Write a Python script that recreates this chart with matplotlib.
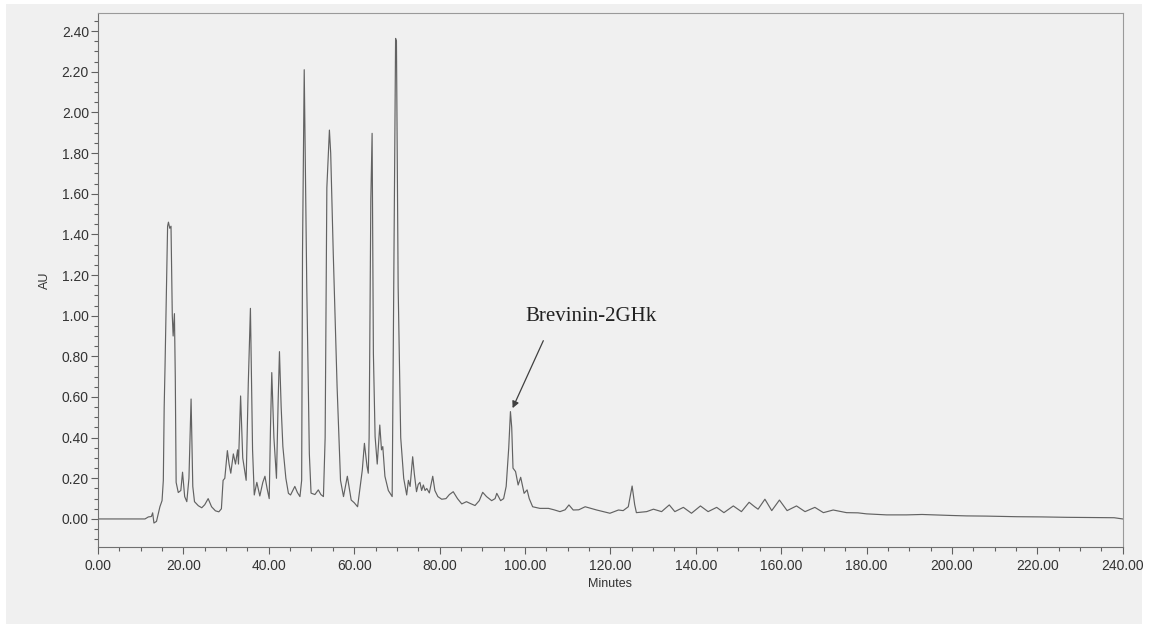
import matplotlib
matplotlib.use("Agg")
import matplotlib.pyplot as plt
from matplotlib.patches import Rectangle
from matplotlib.ticker import MultipleLocator, FormatStrFormatter

# chromatogram trace (minutes, AU)
minutes = [0.0, 11.0, 11.8, 12.5, 12.8, 13.1, 13.7, 14.5, 15.0, 15.3,
           15.5, 15.7, 16.0, 16.3, 16.5, 16.8, 17.1, 17.4, 17.6, 17.9,
           18.1, 18.3, 18.8, 19.4, 19.8, 20.3, 20.8, 21.3, 21.8, 22.2,
           22.6, 23.5, 24.3, 25.0, 25.8, 26.6, 27.5, 28.3, 28.9, 29.3,
           29.7, 30.3, 30.7, 31.1, 31.7, 32.2, 32.7, 32.9, 33.4, 33.9,
           34.7, 35.2, 35.7, 36.2, 36.6, 37.2, 37.9, 38.6, 39.1, 39.6,
           40.1, 40.4, 40.7, 41.2, 41.8, 42.2, 42.5, 42.9, 43.3, 44.0,
           44.6, 45.1, 46.1, 46.7, 47.3, 47.7, 47.9, 48.3, 48.9, 49.5,
           49.9, 50.8, 51.6, 52.2, 52.8, 53.2, 53.6, 54.2, 54.5, 55.1,
           56.0, 56.8, 57.5, 58.4, 59.3, 60.0, 60.8, 61.9, 62.4, 63.0,
           63.3, 63.5, 63.9, 64.2, 64.5, 64.9, 65.4, 66.0, 66.4, 66.7,
           67.2, 68.0, 68.9, 69.0, 69.4, 69.7, 69.9, 70.3, 70.9, 71.6,
           72.3, 72.7, 73.1, 73.7, 74.1, 74.6, 75.0, 75.4, 75.8, 76.2,
           76.6, 77.0, 77.6, 78.4, 78.9, 79.6, 80.5, 81.5, 82.3, 83.2,
           84.2, 85.2, 86.3, 87.1, 88.3, 89.3, 90.1, 91.0, 92.2, 93.0,
           93.4, 94.3, 95.0, 95.6, 96.2, 96.6, 96.9, 97.2, 97.8, 98.4,
           99.0, 99.8, 100.5, 101.0, 101.8, 103.5, 105.5, 106.8, 108.2, 109.4,
           110.3, 111.3, 112.6, 114.1, 116.8, 118.5, 119.9, 121.9, 123.0, 124.2,
           125.1, 125.7, 126.1, 128.5, 130.1, 132.0, 133.8, 135.1, 137.1, 139.0,
           141.1, 142.9, 144.9, 146.6, 148.8, 150.7, 152.5, 153.8, 154.6, 156.2,
           157.8, 159.6, 161.4, 163.6, 165.6, 167.9, 169.9, 172.2, 175.3, 178.0,
           180.0, 184.7, 189.4, 193.0, 195.6, 200.0, 203.4, 208.0, 215.2, 221.0,
           226.9, 233.0, 238.0, 240.0]
au = [0.0, 0.0, 0.01, 0.012, 0.03, -0.02, -0.012, 0.06, 0.09, 0.19,
      0.55, 0.75, 1.10, 1.44, 1.46, 1.43, 1.44, 1.00, 0.90, 1.01,
      0.70, 0.18, 0.13, 0.14, 0.23, 0.11, 0.085, 0.20, 0.59, 0.16,
      0.085, 0.065, 0.055, 0.07, 0.10, 0.06, 0.04, 0.035, 0.05, 0.19,
      0.20, 0.336, 0.27, 0.225, 0.32, 0.27, 0.34, 0.27, 0.605, 0.30,
      0.19, 0.667, 1.036, 0.34, 0.118, 0.18, 0.113, 0.18, 0.21, 0.15,
      0.10, 0.45, 0.72, 0.40, 0.20, 0.585, 0.823, 0.55, 0.356, 0.20,
      0.126, 0.118, 0.16, 0.13, 0.11, 0.19, 1.31, 2.21, 1.14, 0.32,
      0.127, 0.12, 0.143, 0.12, 0.11, 0.40, 1.63, 1.913, 1.80, 1.307,
      0.65, 0.19, 0.11, 0.21, 0.093, 0.08, 0.06, 0.24, 0.372, 0.26,
      0.225, 0.40, 1.57, 1.897, 0.815, 0.405, 0.27, 0.462, 0.34, 0.356,
      0.21, 0.14, 0.11, 0.40, 1.63, 2.364, 2.35, 1.14, 0.40, 0.20,
      0.118, 0.19, 0.16, 0.306, 0.22, 0.134, 0.17, 0.18, 0.14, 0.167,
      0.14, 0.15, 0.128, 0.21, 0.14, 0.11, 0.097, 0.10, 0.12, 0.134,
      0.10, 0.074, 0.085, 0.077, 0.066, 0.09, 0.131, 0.11, 0.09, 0.10,
      0.126, 0.09, 0.10, 0.16, 0.35, 0.528, 0.45, 0.25, 0.233, 0.167,
      0.205, 0.126, 0.143, 0.10, 0.06, 0.052, 0.052, 0.045, 0.036, 0.045,
      0.069, 0.044, 0.045, 0.06, 0.044, 0.035, 0.028, 0.044, 0.041, 0.06,
      0.162, 0.07, 0.031, 0.036, 0.048, 0.036, 0.069, 0.036, 0.057, 0.028,
      0.064, 0.036, 0.057, 0.031, 0.064, 0.036, 0.082, 0.06, 0.048, 0.097,
      0.041, 0.093, 0.041, 0.064, 0.036, 0.057, 0.031, 0.044, 0.031, 0.030,
      0.025, 0.020, 0.020, 0.022, 0.020, 0.017, 0.015, 0.014, 0.011, 0.010,
      0.008, 0.007, 0.006, 0.0]

peak_label = "Brevinin-2GHk"
peak_xy = (97.1, 0.545)
label_xy = (100.2, 0.975)
arrow_tail = (104.3, 0.877)

W, H = 1151, 624
bg = "#f0f0f0"

fig = plt.figure(figsize=(W / 100, H / 100), dpi=100)
fig.patch.set_facecolor("white")
fig.patches.append(Rectangle((6 / W, 0), (1142 - 6) / W, (H - 4) / H,
                             transform=fig.transFigure, facecolor=bg,
                             edgecolor="none", zorder=-10))

ax = fig.add_axes([98 / W, 1 - 547 / H, (1122.7 - 98) / W, (547 - 13) / H])
ax.set_facecolor(bg)
ax.plot(minutes, au, color="#626262", lw=0.85)

ax.set_xlim(0, 240)
ax.set_ylim(-0.138, 2.489)
ax.xaxis.set_major_locator(MultipleLocator(20))
ax.xaxis.set_minor_locator(MultipleLocator(5))
ax.yaxis.set_major_locator(MultipleLocator(0.2))
ax.yaxis.set_minor_locator(MultipleLocator(0.05))
ax.xaxis.set_major_formatter(FormatStrFormatter("%.2f"))
ax.yaxis.set_major_formatter(FormatStrFormatter("%.2f"))

tick_font = "Liberation Sans"
ax.tick_params(which="major", length=5, width=0.8, color="#606060",
               labelsize=10, labelcolor="#333333")
ax.tick_params(which="minor", length=3, width=0.8, color="#606060")
ax.tick_params(axis="x", pad=3.5)
ax.tick_params(axis="y", pad=1.5)
for lbl in ax.get_xticklabels() + ax.get_yticklabels():
    lbl.set_fontfamily(tick_font)

for side in ["left", "bottom"]:
    ax.spines[side].set_color("#707070")
for side in ["top", "right"]:
    ax.spines[side].set_color("#9a9a9a")

ax.set_xlabel("Minutes", family=tick_font, fontsize=9, color="#333333", labelpad=4)
ax.set_ylabel("AU", family=tick_font, fontsize=9, color="#333333", labelpad=8)

ax.text(label_xy[0], label_xy[1], peak_label, family="Liberation Serif",
        fontsize=15, color="#222222", va="baseline", ha="left")
ax.annotate("", xy=peak_xy, xytext=arrow_tail,
            arrowprops=dict(arrowstyle="-|>", color="#404040", lw=0.9,
                            mutation_scale=10, shrinkA=0, shrinkB=0))

fig.savefig("out.png", dpi=100, facecolor=fig.get_facecolor())
